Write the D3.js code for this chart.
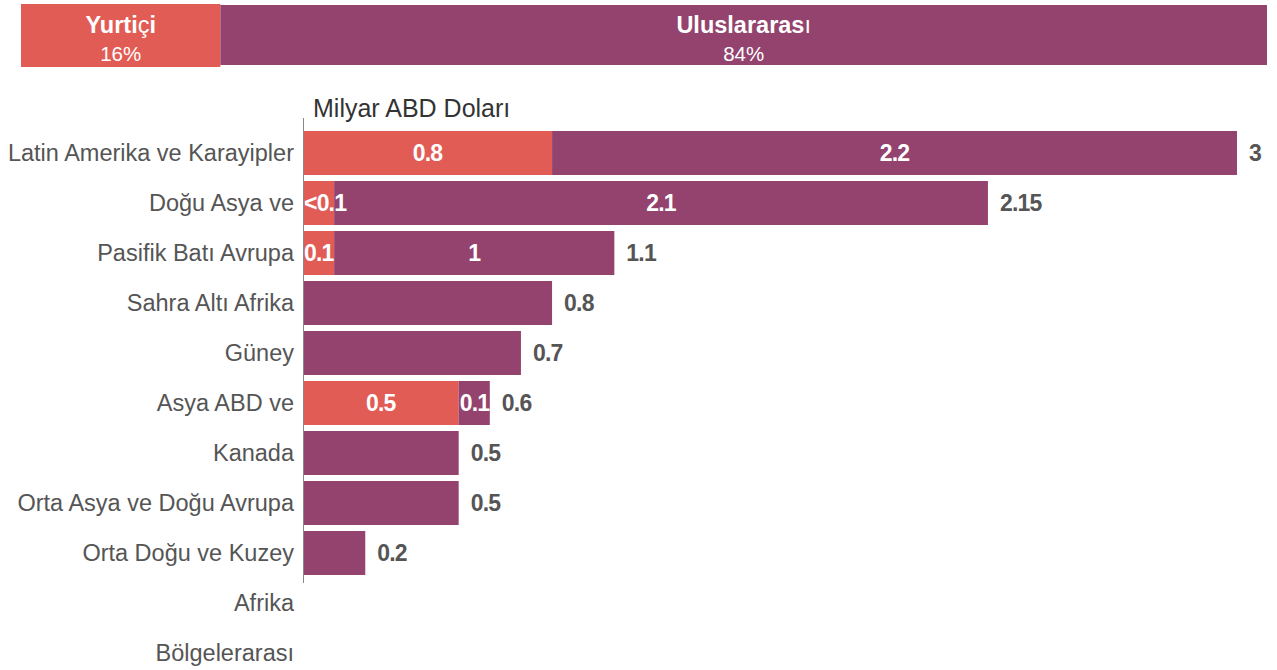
<!DOCTYPE html>
<html lang="tr">
<head>
<meta charset="UTF-8">
<title>Chart</title>
<script src="https://d3js.org/d3.v7.min.js"></script>
<style>
  body { margin: 0; background: #fff; }
  svg { font-family: "Liberation Sans", Arial, sans-serif; }
</style>
</head>
<body>
<svg id="chart" width="1277" height="670"></svg>
<script>
// data
const shareNames = ["Yurtiçi", "Uluslararası"];
const shares = [16, 84];

const categories = ["Latin Amerika ve Karayipler", "Doğu Asya ve", "Pasifik Batı Avrupa",
  "Sahra Altı Afrika", "Güney", "Asya ABD ve", "Kanada", "Orta Asya ve Doğu Avrupa",
  "Orta Doğu ve Kuzey", "Afrika", "Bölgelerarası"];
const domestic = [0.8, 0.1, 0.1, 0, 0, 0.5, 0, 0, 0, 0, 0];
const international = [2.2, 2.1, 0.9, 0.8, 0.7, 0.1, 0.5, 0.5, 0.2, 0, 0];
const domesticLabels = ["0.8", "<0.1", "0.1", "", "", "0.5", "", "", "", "", ""];
const internationalLabels = ["2.2", "2.1", "1", "", "", "0.1", "", "", "", "", ""];
const totalLabels = ["3", "2.15", "1.1", "0.8", "0.7", "0.6", "0.5", "0.5", "0.2", "", ""];

const red = "#e15c55", purple = "#93436d";
const svg = d3.select("#chart");

// top share strip
const s = d3.scaleLinear().domain([0, 100]).range([21, 1267]);
let acc = 0;
const strip = shares.map((v, i) => { const o = { name: shareNames[i], v, x0: acc }; acc += v; return o; });
const sg = svg.append("g").selectAll("g").data(strip).join("g");
sg.append("rect")
  .attr("x", d => s(d.x0)).attr("width", d => s(d.x0 + d.v) - s(d.x0))
  .attr("y", (d, i) => i === 0 ? 4 : 5).attr("height", (d, i) => i === 0 ? 63 : 60)
  .attr("fill", (d, i) => i === 0 ? red : purple);
// title: bold except the Turkish letters that fell back to regular
const title = sg.append("text")
  .attr("x", d => (s(d.x0) + s(d.x0 + d.v)) / 2).attr("y", 33)
  .attr("text-anchor", "middle").attr("fill", "#fff").attr("font-size", 23.5);
title.each(function (d) {
  const t = d3.select(this);
  const parts = d.name === "Yurtiçi" ? [["Yurti", 700], ["ç", 400], ["i", 700]] : [["Uluslararas", 700], ["ı", 400]];
  parts.forEach(p => t.append("tspan").attr("font-weight", p[1]).text(p[0]));
});
sg.append("text")
  .attr("x", d => (s(d.x0) + s(d.x0 + d.v)) / 2).attr("y", 61)
  .attr("text-anchor", "middle").attr("fill", "#fff").attr("font-size", 20.5)
  .text(d => d.v + "%");

// bars
const x = d3.scaleLinear().domain([0, 3]).range([303, 1237]);
const y = d3.scaleBand().domain(categories).range([128, 678]).paddingInner(0.12).paddingOuter(0.06);

svg.append("text").attr("x", 313).attr("y", 117).attr("font-size", 25).attr("fill", "#333")
  .text("Milyar ABD Doları");

const rows = categories.map((c, i) => ({ c, d: domestic[i], n: international[i],
  dl: domesticLabels[i], nl: internationalLabels[i], tl: totalLabels[i] }));

const g = svg.append("g").selectAll("g").data(rows).join("g")
  .attr("transform", d => `translate(0,${y(d.c)})`);
const bh = y.bandwidth();

g.filter(d => d.d > 0).append("rect")
  .attr("x", x(0)).attr("width", d => x(d.d) - x(0)).attr("height", bh).attr("fill", red);
g.filter(d => d.n > 0).append("rect")
  .attr("x", d => x(d.d)).attr("width", d => x(d.d + d.n) - x(d.d)).attr("height", bh).attr("fill", purple);

function inner(sel, a, b, lab) {
  sel.append("text")
    .attr("x", d => { const w = x(b(d)) - x(a(d)); return w < 40 ? x(a(d)) + 1 : (x(a(d)) + x(b(d))) / 2; })
    .attr("text-anchor", d => (x(b(d)) - x(a(d))) < 40 ? "start" : "middle")
    .attr("y", bh / 2).attr("dy", "0.36em")
    .attr("font-size", 23).attr("font-weight", 700).attr("letter-spacing", -0.8)
    .attr("fill", "#fff").text(lab);
}
inner(g.filter(d => d.dl), d => 0, d => d.d, d => d.dl);
inner(g.filter(d => d.nl), d => d.d, d => d.d + d.n, d => d.nl);

g.filter(d => d.tl).append("text")
  .attr("x", d => x(d.d + d.n) + 12).attr("y", bh / 2).attr("dy", "0.36em")
  .attr("font-size", 23).attr("font-weight", 700).attr("letter-spacing", -0.8)
  .attr("fill", "#555").text(d => d.tl);

// category axis
const ax = svg.append("g").attr("transform", "translate(303,0)")
  .call(d3.axisLeft(y).tickSize(0).tickPadding(9));
ax.select(".domain").remove();
ax.selectAll("text").attr("font-size", 23.5).attr("fill", "#555")
  .attr("font-family", "'Liberation Sans', Arial, sans-serif");

svg.append("line").attr("x1", 303.5).attr("x2", 303.5).attr("y1", 118).attr("y2", 583)
  .attr("stroke", "#888").attr("stroke-width", 1);
</script>
</body>
</html>
